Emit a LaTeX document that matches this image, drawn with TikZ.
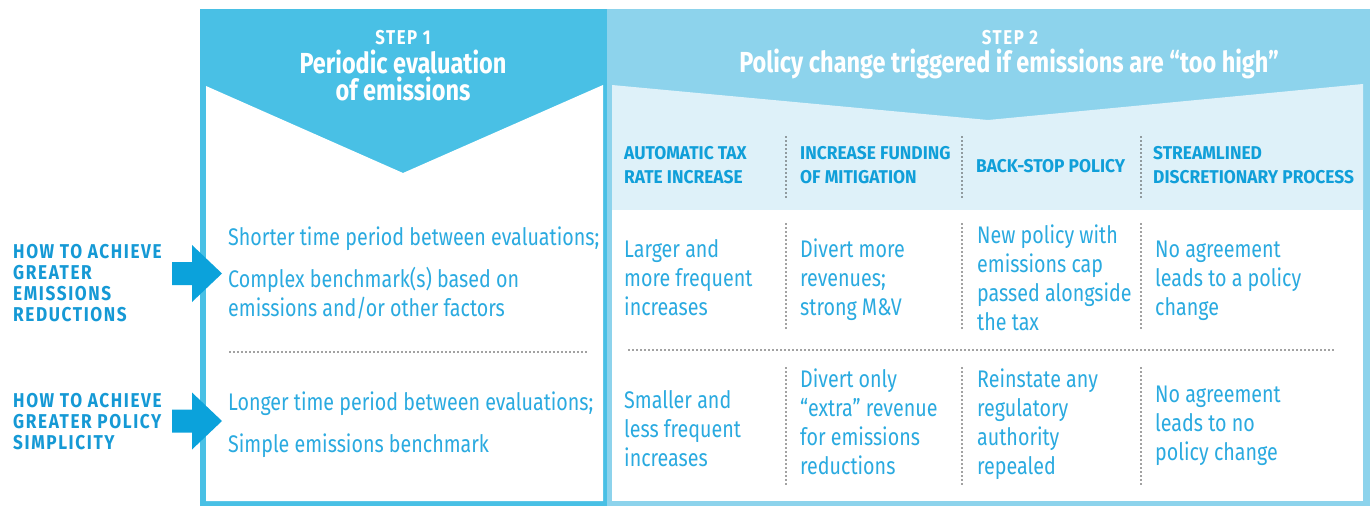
\documentclass[tikz,border=0pt]{standalone}
\usepackage{fontspec}
\setmainfont{Fira Sans}[FakeStretch=0.82]
\newfontfamily\titlefont{Fira Sans}[FakeStretch=0.81]
\newfontfamily\tagfont{Fira Sans}[FakeStretch=0.84, LetterSpace=8]
\newfontfamily\colfont{Fira Sans}[FakeStretch=0.94]
\newfontfamily\sidefont{Fira Sans}[FakeStretch=0.86, LetterSpace=8]

\definecolor{stepone}{HTML}{49C0E5}
\definecolor{steptwo}{HTML}{8DD3EC}
\definecolor{paleband}{HTML}{DEF1F9}
\definecolor{inkblue}{HTML}{2AAAE0}
\definecolor{headblue}{HTML}{109FD9}
\definecolor{sideblue}{HTML}{1599D5}
\definecolor{arrowblue}{HTML}{0BA2DB}
\definecolor{dotgray}{HTML}{444444}

% strut that lifts the first line so the node top sits 0.8em above its baseline
\makeatletter
\newcommand\firstrule{\rule{0pt}{0.8\dimexpr\f@size pt\relax}}
\makeatother

\begin{document}
\begin{tikzpicture}[x=1pt, y=-1pt,
  body/.style={anchor=north west, yshift=19.2pt, inner sep=0pt, align=left,
    text=inkblue, font=\fontsize{24}{29}\selectfont},
  colhead/.style={anchor=north west, yshift=14.8pt, inner sep=0pt, align=left,
    text=headblue, font=\colfont\bfseries\fontsize{18.5}{24}\selectfont},
  sidelabel/.style={anchor=north west, yshift=16pt, inner sep=0pt, align=left,
    text=sideblue, font=\sidefont\bfseries\fontsize{20}{21}\selectfont},
  steptag/.style={anchor=base, inner sep=0pt, text=white,
    font=\tagfont\bfseries\fontsize{20}{22}\selectfont},
  steptitle/.style={anchor=north, yshift=23.2pt, inner sep=0pt, align=center,
    text=white, font=\titlefont\bfseries\fontsize{29}{27}\selectfont},
  sep/.style={dotgray, line width=1.6pt, line cap=round, dash pattern=on 0pt off 4pt},
  blockarrow/.style={fill=arrowblue}
]
\useasboundingbox (0,0) rectangle (1370,506);

% ---- step 1 panel: framed column with a downward chevron header
\fill[stepone] (200,9) rectangle (607,506);
\fill[white] (206,86) -- (403,173) -- (603,85) -- (603,501) -- (206,501) -- cycle;

% ---- step 2 panel: lighter frame, pale band for the four options
\fill[steptwo] (607,9) rectangle (1370,506);
\fill[paleband] (612,85) -- (988,120) -- (1363,84) -- (1363,210) -- (612,210) -- cycle;
\fill[white] (612,210) rectangle (1363,501);

% ---- headers
\node[steptag] (tag1) at (403,44) {STEP 1};
\node[steptitle] (title1) at (403,73) {\firstrule Periodic evaluation\\of emissions};
\node[steptag] (tag2) at (1010,44) {STEP 2};
\node[steptitle] (title2) at (1009,72) {\firstrule Policy change triggered if emissions are “too high”};

% ---- option column headings
\node[colhead] (h1) at (624,159) {\firstrule AUTOMATIC TAX\\RATE INCREASE};
\node[colhead] (h2) at (800,159) {\firstrule INCREASE FUNDING\\OF MITIGATION};
\node[colhead] (h3) at (976,172) {\firstrule BACK-STOP POLICY};
\node[colhead] (h4) at (1153,159) {\firstrule STREAMLINED\\DISCRETIONARY PROCESS};

% ---- row labels on the left
\node[sidelabel] (goalA) at (13,258) {\firstrule HOW TO ACHIEVE\\GREATER\\EMISSIONS\\REDUCTIONS};
\node[sidelabel] (goalB) at (13,407) {\firstrule HOW TO ACHIEVE\\GREATER POLICY\\SIMPLICITY};

% ---- block arrows pointing into step 1
\coordinate (tipA) at (222,273.5);
\coordinate (tipB) at (222,421);
\foreach \t in {tipA,tipB}
  \fill[blockarrow] (\t) -- ++(-30,-28.5) -- ++(0,17) -- ++(-20,0) -- ++(0,23)
    -- ++(20,0) -- ++(0,17) -- cycle;

% ---- step 1 cells
\node[body] (s1a) at (228,245) {\firstrule Shorter time period between evaluations;\\[13pt]Complex benchmark(s) based on\\emissions and/or other factors};
\node[body] (s1b) at (228,410) {\firstrule Longer time period between evaluations;\\[13pt]Simple emissions benchmark};
\draw[sep] (230,352) -- (586,352);

% ---- step 2 cells, upper row (greater emissions reductions)
\node[body] (c1u) at (624,257) {\firstrule Larger and\\more frequent\\increases};
\node[body] (c2u) at (800,257) {\firstrule Divert more\\revenues;\\strong M\&V};
\node[body] (c3u) at (977,243) {\firstrule New policy with\\emissions cap\\passed alongside\\the tax};
\node[body] (c4u) at (1155,257) {\firstrule No agreement\\leads to a policy\\change};

% ---- step 2 cells, lower row (greater policy simplicity)
\node[body] (c1l) at (624,408) {\firstrule Smaller and\\less frequent\\increases};
\node[body] (c2l) at (800,387) {\firstrule Divert only\\“extra” revenue\\for emissions\\reductions};
\node[body] (c3l) at (977,387) {\firstrule Reinstate any\\regulatory\\authority\\repealed};
\node[body] (c4l) at (1155,402) {\firstrule No agreement\\leads to no\\policy change};

% ---- dotted separators in step 2
\draw[sep] (629,350) -- (1336,350);
\foreach \x in {786,962,1141} {
  \draw[sep] (\x,137) -- (\x,197);
  \draw[sep] (\x,224) -- (\x,331);
  \draw[sep] (\x,368) -- (\x,485);
}
\end{tikzpicture}
\end{document}
